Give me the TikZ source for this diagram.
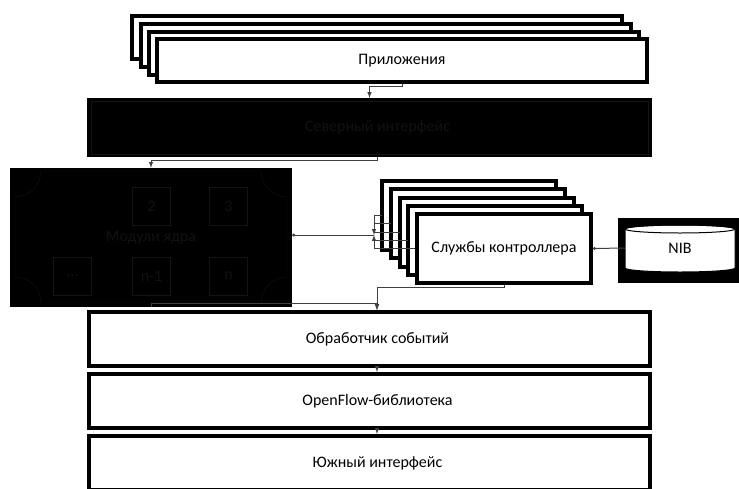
\documentclass[tikz,border=0pt]{standalone}
\usepackage{fontspec}
\setmainfont{Carlito}
\usetikzlibrary{positioning}
\usetikzlibrary{calc,arrows.meta}

\begin{document}
\begin{tikzpicture}[x=1pt,y=-1pt, >=latex, every node/.style={font=\fontsize{16}{18}\selectfont}]
    \tikzstyle{layerbox}=[draw=black, line width=4pt, fill=white, minimum width=561pt, minimum height=54pt]
    \tikzstyle{darkbox}=[draw=black, line width=4pt, fill=black, minimum width=561pt, minimum height=55pt]
    \tikzstyle{stackbox}=[draw=black, line width=4pt, fill=white]
    \tikzstyle{inner lines}=[draw=black!92, thin]
    \tikzstyle{wire}=[draw=black!75, line width=1pt]

    \useasboundingbox (0,0) rectangle (739,488);
    \coordinate (axis) at (377,0);

    % Applications stack
    \foreach \x/\y in {132/16,141/24,149/32}
        \draw[stackbox] (\x,\y) rectangle +(490,43);
    \node[stackbox, minimum width=490pt, minimum height=43pt] (apps) at (402,60.5) {Приложения};

    % Northbound interface
    \node[darkbox, label={[xshift=8pt, text=black!93]center:Северный интерфейс}] (north) at (369.5,127.5) {};
    \draw[inner lines] ([shift={(4,3)}]north.north west) rectangle ([shift={(-4,-3)}]north.south east);

    % Core modules
    \node[fill=black, minimum width=282pt, minimum height=139pt, text=black!93] (mods) at (151,237.5) {Модули ядра};
    \draw[inner lines] (41,171) -- (261,171) arc[start angle=180, end angle=270, radius=26pt]
        -- (287,277) arc[start angle=90, end angle=180, radius=26pt]
        -- (41,303) arc[start angle=0, end angle=90, radius=26pt]
        -- (15,197) arc[start angle=-90, end angle=0, radius=26pt] -- cycle;
    \node[inner lines, minimum size=38pt, text=black!93] (m2) at (151.5,206.5) {2};
    \node[inner lines, minimum size=38pt, text=black!93] (m3) at (228.5,206.5) {3};
    \node[inner lines, minimum size=38pt, text=black!93] (mdots) at (72.5,276) {...};
    \node[inner lines, minimum size=38pt, text=black!93] (mn1) at (151.5,276) {n-1};
    \node[inner lines, minimum size=38pt, text=black!93] (mn) at (228.5,276) {n};

    % Controller services stack
    \foreach \i in {0,...,3} {
        \draw[stackbox] (382+8.75*\i,181+8.25*\i) rectangle +(174,69);
        \coordinate (c\i) at (382+8.75*\i,215.5+8.25*\i);
    }
    \node[stackbox, minimum width=174pt, minimum height=69pt] (ctrl) at (504,248.5) {Службы контроллера};

    % NIB
    \fill[black] (618,218) rectangle (739,283);
    \draw[fill=white, line width=1pt] (625,229) -- (625,268) arc[start angle=180, end angle=360, x radius=55pt, y radius=4pt]
        -- (735,229) arc[start angle=0, end angle=180, x radius=55pt, y radius=4pt] -- cycle;
    \draw[line width=1pt] (680,229) ellipse [x radius=55pt, y radius=4pt];
    \node[minimum width=110pt] (nib) at (680,248) {NIB};

    % Lower layers
    \node[layerbox, label={[xshift=8pt]center:Обработчик событий}] (events) at (369.5,339) {};
    \node[layerbox, label={[xshift=8pt]center:OpenFlow-библиотека}] (ofl) at (369.5,401) {};
    \node[layerbox, label={[xshift=8pt]center:Южный интерфейс}] (south) at (369.5,463) {};

    % Connectors
    \draw[wire,->] (apps.south) -- ++(0,2) -| (north.north);
    \draw[wire,->] (north.south -| axis) -- ++(0,3) -| (mods.north);
    \coordinate (fan) at (374,235);
    \draw[wire, {Circle[length=3pt]}-] (fan -| mods.east) -- (fan);
    \foreach \i in {0,...,3}
        \draw[wire] (c\i) -- (c\i -| fan);
    \draw[wire] (ctrl.west) -- (ctrl.west -| fan);
    \draw[wire,->] (c0 -| fan) -- (fan);
    \draw[wire,->] (ctrl.west -| fan) -- (fan);
    \draw[wire, {Circle[length=3pt]}-] (ctrl.east) -- (nib.west);
    \draw[wire,->] (ctrl.south) -- ++(0,2) -| (events.north -| axis);
    \draw[wire,->] (mods.south) -- ++(0,-4) -| (events.north -| axis);
    \draw[wire,->] (events.south -| axis) -- (ofl.north -| axis);
    \draw[wire,->] (ofl.south -| axis) -- (south.north -| axis);
\end{tikzpicture}
\end{document}
